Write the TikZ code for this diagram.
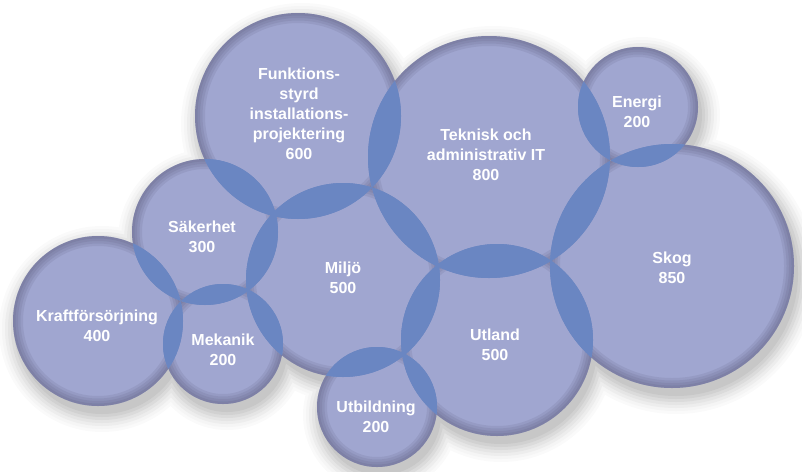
\documentclass[tikz,border=0pt]{standalone}
\usepackage{fontspec}
\setsansfont{Liberation Sans}
\usepackage{xcolor}

\definecolor{bubblefill}{RGB}{160,166,208}
\definecolor{lensfill}{RGB}{106,134,194}
\definecolor{rimshade}{RGB}{70,72,100}

% name/x/y/radius/neighbours
\def\bubbles{kraft/98/321/85/{sak,mek},
  sak/205/232/73/{kraft,mek,funk,miljo},
  mek/223/344/60/{kraft,sak,miljo},
  funk/298/116/103/{sak,miljo,it},
  miljo/343/280/97/{sak,mek,funk,it,utl,utb},
  utb/377/407/60/{miljo,utl},
  it/489/157/121/{funk,miljo,utl,energi,skog},
  utl/497/340/96/{miljo,utb,it,skog},
  energi/638/107/60/{it,skog},
  skog/672/266/122/{it,energi,utl}}

\begin{document}
\begin{tikzpicture}[x=1pt,y=-1pt,
    lbl/.style={font=\sffamily\bfseries\fontsize{16}{20}\selectfont, text=white, align=center, inner sep=0pt}]
  \useasboundingbox (0,0) rectangle (802,471);
  \foreach \n/\x/\y/\r/\nb in \bubbles {
    \coordinate (\n) at (\x,\y);
    \expandafter\xdef\csname rad-\n\endcsname{\r}
  }
  % soft shadow
  \foreach \g/\c in {18/2,15/4,12/7,9/10,6/14,3/18,0/22}
    \foreach \n/\x/\y/\r/\nb in \bubbles
      \fill[black!\c] ([shift={(4,8)}]\n) circle ({\r+\g});
  % bubbles
  \foreach \n/\x/\y/\r/\nb in \bubbles
    \fill[bubblefill] (\n) circle (\r);
  % inner rim, only on the outer edge
  \foreach \n/\x/\y/\r/\nb in \bubbles {
    \begin{scope}
      \clip (\n) circle (\r);
      \begin{scope}[even odd rule]
        \clip (-10,-10) rectangle (812,481)
          \foreach \m in \nb {(\m) circle (\csname rad-\m\endcsname)};
        \foreach \w in {5,10,15,20}
          \draw[rimshade, opacity=.11, line width=\w pt] (\n) circle (\r);
      \end{scope}
    \end{scope}
  }
  % overlaps
  \foreach \n/\x/\y/\r/\nb in \bubbles
    \foreach \m in \nb {
      \begin{scope}
        \clip (\n) circle (\r);
        \fill[lensfill] (\m) circle (\csname rad-\m\endcsname);
      \end{scope}
    }
  \node[lbl] (funklbl) at (299,114) {Funktions-\\styrd\\installations-\\projektering\\600};
  \node[lbl] (itlbl) at (486,155) {Teknisk och\\administrativ IT\\800};
  \node[lbl] (energilbl) at (637,112) {Energi\\200};
  \node[lbl] (saklbl) at (202,237) {Säkerhet\\300};
  \node[lbl] (miljolbl) at (343,278) {Miljö\\500};
  \node[lbl] (kraftlbl) at (97,326) {Kraftförsörjning\\400};
  \node[lbl] (meklbl) at (223,350) {Mekanik\\200};
  \node[lbl] (utblbl) at (376,417) {Utbildning\\200};
  \node[lbl] (utllbl) at (495,345) {Utland\\500};
  \node[lbl] (skoglbl) at (672,268) {Skog\\850};
\end{tikzpicture}
\end{document}
